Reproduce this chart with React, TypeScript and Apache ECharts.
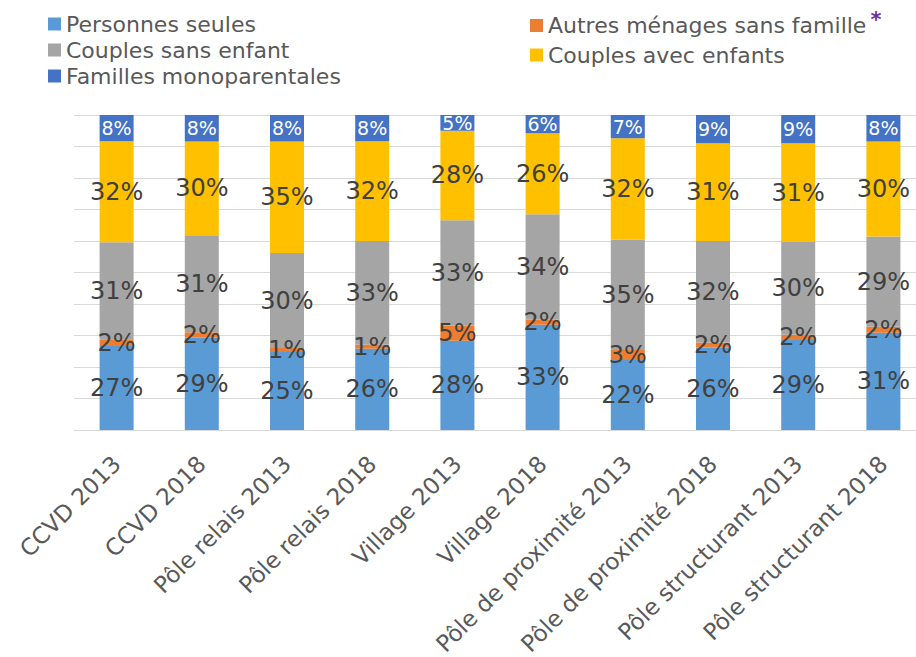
import React, { useEffect, useRef } from "react";
import * as echarts from "echarts";

const categories = [
  "CCVD 2013",
  "CCVD 2018",
  "Pôle relais 2013",
  "Pôle relais 2018",
  "Village 2013",
  "Village 2018",
  "Pôle de proximité 2013",
  "Pôle de proximité 2018",
  "Pôle structurant 2013",
  "Pôle structurant 2018",
];

const seriesNames = [
  "Personnes seules",
  "Autres ménages sans famille",
  "Couples sans enfant",
  "Couples avec enfants",
  "Familles monoparentales",
];

const personnesSeules = [26.7, 29.4, 24.8, 25.8, 28.3, 33.4, 22.2, 26.2, 28.6, 30.9];
const autresMenages = [2.1, 1.6, 1.2, 1.3, 4.9, 1.6, 3.2, 1.6, 1.6, 1.9];
const couplesSansEnfant = [30.8, 30.8, 30.2, 32.9, 33.4, 33.5, 35.0, 32.2, 29.5, 28.6];
const couplesAvecEnfants = [32.1, 29.8, 35.4, 31.7, 28.4, 25.7, 32.2, 31.0, 31.3, 30.2];
const famillesMono = [8.3, 8.4, 8.4, 8.3, 5.0, 5.8, 7.4, 9.0, 9.0, 8.4];

const colors = ["#5B9BD5", "#ED7D31", "#A5A5A5", "#FFC000", "#4472C4"];

const FONT = "DejaVu Sans";

export default function App() {
  const ref = useRef<HTMLDivElement>(null);

  useEffect(() => {
    if (!ref.current) return;
    const chart = echarts.init(ref.current, null, { renderer: "svg" });
    const values = [personnesSeules, autresMenages, couplesSansEnfant, couplesAvecEnfants, famillesMono];

    const series = seriesNames.map((name, i) => ({
      name,
      type: "bar",
      stack: "total",
      barWidth: 34,
      data: values[i],
      itemStyle: { color: colors[i] },
      label: {
        show: true,
        position: "inside",
        formatter: (p: any) => Math.round(p.value) + "%",
        color: i === 4 ? "#FFFFFF" : "#404040",
        fontFamily: FONT,
        fontSize: i === 4 ? 19 : 24,
      },
    }));

    const legendText = {
      color: "#595959",
      fontFamily: FONT,
      fontSize: 22,
      lineHeight: 26,
      rich: {
        star: {
          color: "#7030A0",
          fontFamily: FONT,
          fontSize: 21,
          fontWeight: "bold",
          lineHeight: 26,
          padding: [0, 0, 12, 4],
        },
      },
    };

    chart.setOption({
      animation: false,
      color: colors,
      legend: [
        {
          orient: "vertical",
          left: 48,
          top: 11,
          padding: 0,
          icon: "rect",
          itemWidth: 13,
          itemHeight: 13,
          itemGap: 0,
          data: [seriesNames[0], seriesNames[2], seriesNames[4]],
          textStyle: legendText,
          selectedMode: false,
        },
        {
          orient: "vertical",
          left: 530,
          top: 9,
          padding: 0,
          icon: "rect",
          itemWidth: 13,
          itemHeight: 13,
          itemGap: 0,
          data: [seriesNames[1], seriesNames[3]],
          textStyle: legendText,
          selectedMode: false,
          formatter: (n: string) => (n === seriesNames[1] ? n + "{star|*}" : n),
        },
      ],
      grid: { left: 74, top: 115, width: 852, bottom: 227, outerBoundsMode: "none", containLabel: false },
      xAxis: {
        type: "category",
        data: categories,
        axisLine: { lineStyle: { color: "#D9D9D9", width: 1 } },
        axisTick: { show: false },
        axisLabel: {
          rotate: 45,
          interval: 0,
          color: "#595959",
          fontFamily: FONT,
          fontSize: 23,
          margin: 30,
        },
      },
      yAxis: {
        type: "value",
        min: 0,
        max: 100,
        interval: 10,
        axisLabel: { show: false },
        axisLine: { show: false },
        axisTick: { show: false },
        splitLine: { lineStyle: { color: "#D9D9D9", width: 1 } },
      },
      series,
    });

    return () => chart.dispose();
  }, []);

  return (
    <div
      ref={ref}
      style={{ position: "fixed", left: 0, top: 0, width: 916, height: 657, background: "#fff" }}
    />
  );
}
